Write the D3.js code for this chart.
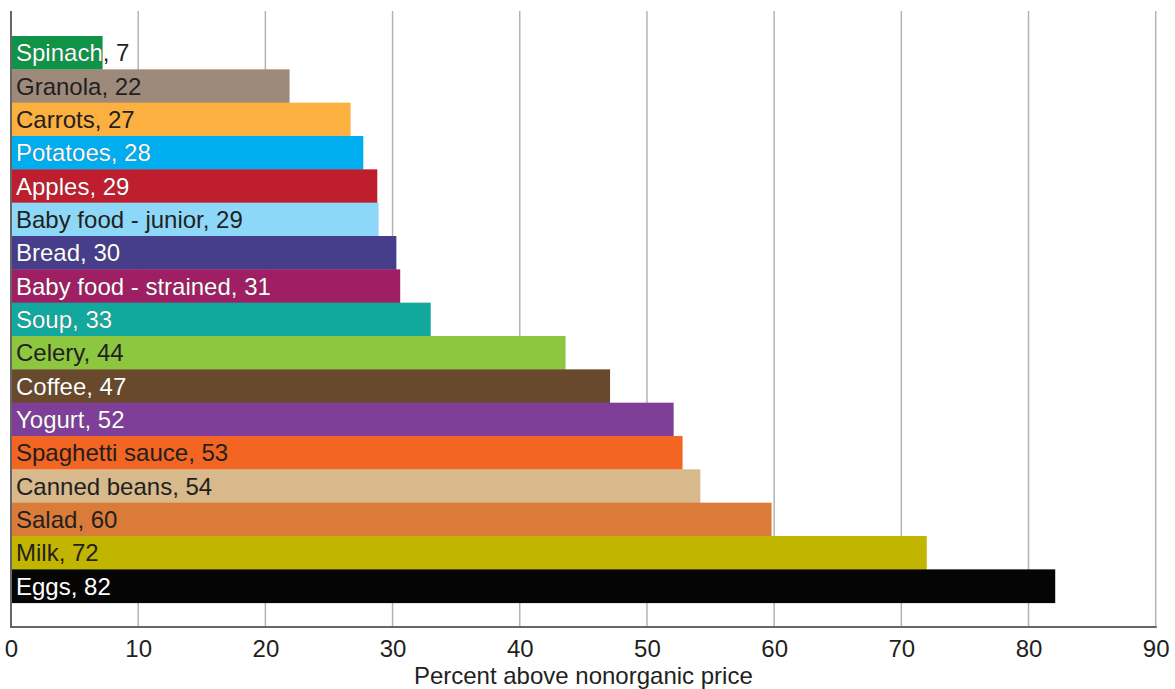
<!DOCTYPE html>
<html>
<head>
<meta charset="utf-8">
<script src="https://cdn.jsdelivr.net/npm/d3@7"></script>
<style>
  html, body { margin: 0; padding: 0; background: #fff; }
  svg { display: block; font-family: "Liberation Sans", Arial, Helvetica, sans-serif; }
</style>
</head>
<body>
<svg id="chart" width="1175" height="689"></svg>
<script>
const categories = ["Spinach", "Granola", "Carrots", "Potatoes", "Apples", "Baby food - junior", "Bread",
  "Baby food - strained", "Soup", "Celery", "Coffee", "Yogurt", "Spaghetti sauce", "Canned beans",
  "Salad", "Milk", "Eggs"];
const values = [7.2, 21.9, 26.7, 27.7, 28.8, 28.9, 30.3, 30.6, 33.0, 43.6, 47.1, 52.1, 52.8, 54.2, 59.8, 72.0, 82.1];
const barColors = ["#0f9447", "#9e8a7b", "#fbb040", "#00aeef", "#be1e2d", "#8dd8f8", "#463e8a",
  "#9e1f63", "#12a89d", "#8dc63f", "#68492c", "#7f3f98", "#f26522", "#d7b98b", "#da7b39", "#c2b500", "#050505"];
const labelColors = ["#ffffff", "#231f20", "#231f20", "#ffffff", "#ffffff", "#231f20", "#ffffff",
  "#ffffff", "#ffffff", "#231f20", "#ffffff", "#ffffff", "#231f20", "#231f20", "#231f20", "#231f20", "#ffffff"];
const tickValues = [0, 10, 20, 30, 40, 50, 60, 70, 80, 90];
const axisTitle = "Percent above nonorganic price";

(function () {
const svg = d3.select("#chart");
const mLeft = 11, mRight = 1155.7, mTop = 11, mBottom = 627;
const barTop = 36, barBottom = 602.7;
const fontSize = 24;
const darkText = "#231f20";

const x = d3.scaleLinear().domain([0, 90]).range([mLeft, mRight]);
const y = d3.scaleBand().domain(categories).range([barTop, barBottom]).padding(0);

// gridlines
svg.append("g").selectAll("line").data(tickValues.filter(d => d > 0)).join("line")
  .attr("x1", d => x(d)).attr("x2", d => x(d))
  .attr("y1", mTop).attr("y2", mBottom)
  .attr("stroke", "#b3b3b3").attr("stroke-width", 1.5);

const data = categories.map((c, i) => ({ c, v: values[i], color: barColors[i], lc: labelColors[i] }));

const defs = svg.append("defs");
data.forEach((d, i) => {
  defs.append("clipPath").attr("id", "clip" + i)
    .append("rect")
    .attr("x", x(0)).attr("y", y(d.c))
    .attr("width", x(d.v) - x(0)).attr("height", y.bandwidth());
});

// bars
svg.append("g").selectAll("rect").data(data).join("rect")
  .attr("x", x(0)).attr("y", d => y(d.c))
  .attr("width", d => x(d.v) - x(0))
  .attr("height", y.bandwidth() + 0.4)
  .attr("fill", d => d.color);

// labels: dark base text, label colour clipped inside the bar
const labelText = d => d.c + ", " + Math.round(d.v);
const lg = svg.append("g").attr("font-size", fontSize);
data.forEach((d, i) => {
  const ty = y(d.c) + y.bandwidth() / 2 + fontSize * 0.36;
  lg.append("text").attr("x", x(0) + 5).attr("y", ty).attr("fill", darkText).text(labelText(d));
  if (d.lc !== darkText) {
    lg.append("text").attr("x", x(0) + 5).attr("y", ty).attr("fill", d.lc)
      .attr("clip-path", "url(#clip" + i + ")").text(labelText(d));
  }
});

// axes lines
svg.append("line").attr("x1", mLeft).attr("x2", mLeft).attr("y1", mTop).attr("y2", mBottom)
  .attr("stroke", "#666").attr("stroke-width", 2);
svg.append("line").attr("x1", mLeft - 1).attr("x2", mRight + 1).attr("y1", mBottom).attr("y2", mBottom)
  .attr("stroke", "#666").attr("stroke-width", 2);

// tick labels via d3 axis
const axis = d3.axisBottom(x).tickValues(tickValues).tickSize(0).tickPadding(0).tickFormat(d3.format("d"));
const ag = svg.append("g").attr("transform", `translate(0,${mBottom})`).call(axis);
ag.select(".domain").remove();
ag.selectAll("text").attr("font-size", fontSize).attr("font-family", null)
  .attr("fill", darkText).attr("dy", null).attr("y", 30);
ag.attr("font-family", null).attr("font-size", null);

svg.append("text").attr("x", (mLeft + mRight) / 2).attr("y", 684)
  .attr("text-anchor", "middle").attr("font-size", fontSize).attr("fill", darkText)
  .text(axisTitle);
})();
</script>
</body>
</html>
